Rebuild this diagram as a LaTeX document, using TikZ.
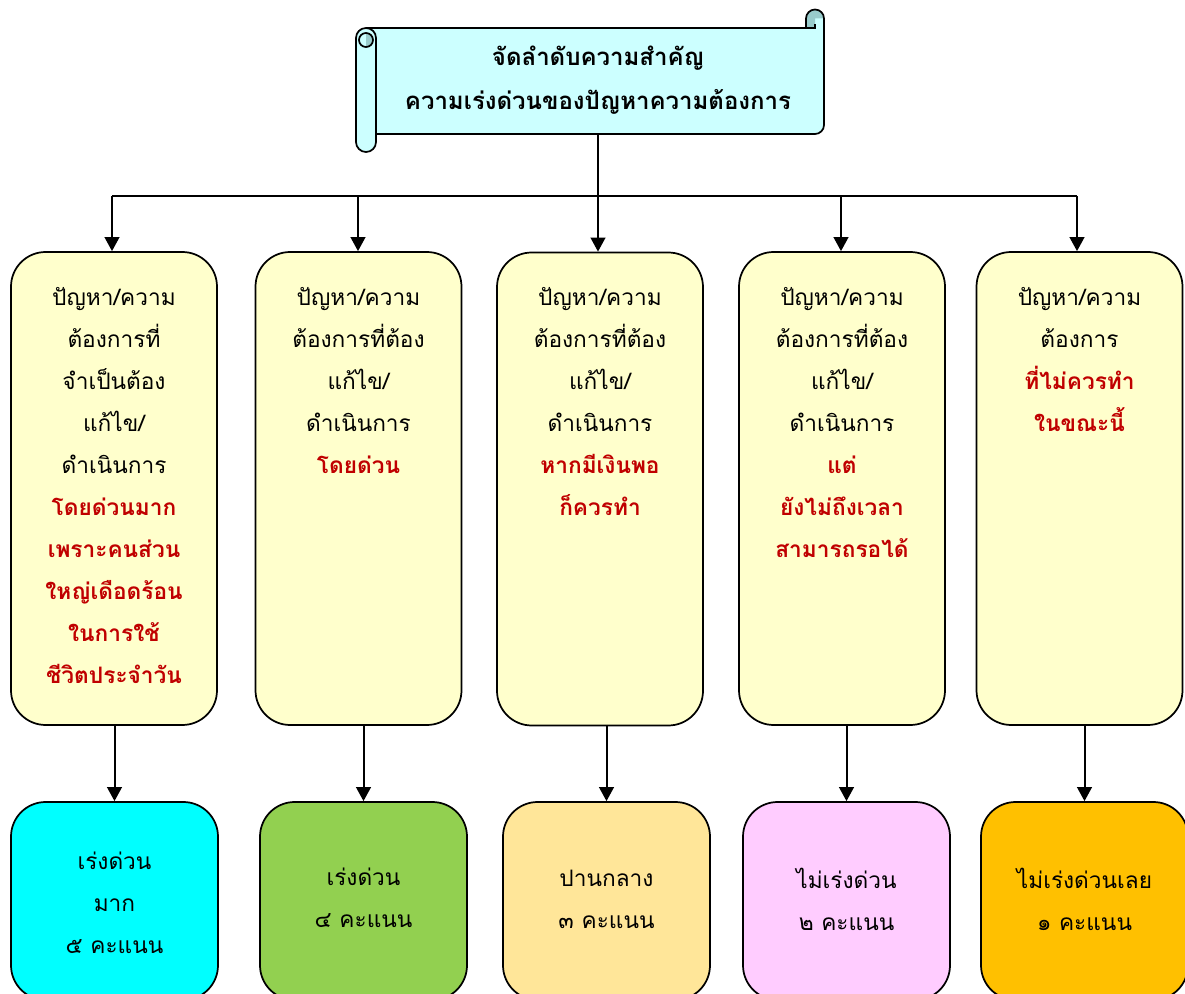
\documentclass[tikz,border=0pt]{standalone}
\usepackage{fontspec}
\setmainfont[Script=Thai]{Loma}
\usetikzlibrary{arrows.meta}
\definecolor{scrollc}{HTML}{CCFFFF}
\definecolor{scrolld}{HTML}{99CCCC}
\definecolor{topc}{HTML}{FFFFCC}
\definecolor{redt}{HTML}{C00000}
\definecolor{cA}{HTML}{00FFFF}
\definecolor{cB}{HTML}{92D050}
\definecolor{cC}{HTML}{FFE699}
\definecolor{cD}{HTML}{FFCCFF}
\definecolor{cE}{HTML}{FFC000}
\newcommand\rb[1]{{\color{redt}\bfseries #1}}
\newcommand\scrollpath{(356,38) arc[start angle=180,end angle=270,radius=10]
  -- (806,28) -- (806,18.5) arc[start angle=180,end angle=360,radius=9]
  -- (824,125) arc[start angle=0,end angle=90,radius=9]
  -- (376,134) -- (376,142) arc[start angle=0,end angle=180,radius=10]
  -- cycle}
\begin{document}
\begin{tikzpicture}[x=0.75pt,y=-0.75pt,
  outline/.style={draw=black,line width=1.3pt},
  topbox/.style={outline,fill=topc,rounded corners=26pt,minimum width=154.5pt,minimum height=354.75pt,inner sep=0pt},
  botbox/.style={outline,rounded corners=26pt,minimum width=155.25pt,minimum height=148.5pt,inner sep=0pt},
  boxtext/.style={align=center,font=\fontsize{17pt}{31.5pt}\selectfont,inner sep=0pt},
  titletext/.style={align=center,font=\bfseries\fontsize{18pt}{33pt}\selectfont,inner sep=0pt},
  conn/.style={line width=1.5pt},
  arr/.style={conn,-{Triangle[width=11pt,length=10.5pt]}}
]
\useasboundingbox (0,0) rectangle (1185,994);
\clip (0,0) rectangle (1185,994);
\fill[white] (0,0) rectangle (1185,994);

% scroll
\fill[scrollc] \scrollpath;
\fill[scrolld] (806,28) -- (806,18.5) arc[start angle=180,end angle=360,radius=9] -- (815,18.5) -- (815,28) -- cycle;
\fill[scrolld] (366,33) arc[start angle=270,end angle=450,radius=7] -- cycle;
\draw[outline,line join=round] \scrollpath;
\draw[outline] (366,28) arc[start angle=270,end angle=360,radius=10] -- (376,134);
\draw[outline] (366,40) circle[radius=7];
\draw[outline] (806,28) -- (815,28) -- (815,24);
\node[titletext] (title) at (598,80) {จัดลำดับความสำคัญ\\ความเร่งด่วนของปัญหาความต้องการ};
\coordinate (stem) at (598,134);

% top boxes
\node[topbox] (t1) at (114,488.5) {};
\node[topbox] (t2) at (358.5,488.5) {};
\node[topbox] (t3) at (600,489) {};
\node[topbox] (t4) at (842,488.5) {};
\node[topbox] (t5) at (1079.5,488.5) {};

\node[boxtext,anchor=north] (x1) at (114,287) {ปัญหา/ความ\\ต้องการที่\\จำเป็นต้อง\\แก้ไข/\\ดำเนินการ\\\rb{โดยด่วนมาก}\\\rb{เพราะคนส่วน}\\\rb{ใหญ่เดือดร้อน}\\\rb{ในการใช้}\\\rb{ชีวิตประจำวัน}};
\node[boxtext,anchor=north] (x2) at (358.5,287) {ปัญหา/ความ\\ต้องการที่ต้อง\\แก้ไข/\\ดำเนินการ\\\rb{โดยด่วน}};
\node[boxtext,anchor=north] (x3) at (600,287) {ปัญหา/ความ\\ต้องการที่ต้อง\\แก้ไข/\\ดำเนินการ\\\rb{หากมีเงินพอ}\\\rb{ก็ควรทำ}};
\node[boxtext,anchor=north] (x4) at (842,287) {ปัญหา/ความ\\ต้องการที่ต้อง\\แก้ไข/\\ดำเนินการ\\\rb{แต่}\\\rb{ยังไม่ถึงเวลา}\\\rb{สามารถรอได้}};
\node[boxtext,anchor=north] (x5) at (1079.5,287) {ปัญหา/ความ\\ต้องการ\\\rb{ที่ไม่ควรทำ}\\\rb{ในขณะนี้}};

% bottom boxes
\node[botbox,fill=cA] (b1) at (114.5,901) {};
\node[botbox,fill=cB] (b2) at (363.5,901) {};
\node[botbox,fill=cC] (b3) at (606.5,901) {};
\node[botbox,fill=cD] (b4) at (846.5,901) {};
\node[botbox,fill=cE] (b5) at (1084.5,901) {};

\node[boxtext] (y1) at (114.5,903) {เร่งด่วน\\มาก\\๕ คะแนน};
\node[boxtext] (y2) at (363.5,898) {เร่งด่วน\\๔ คะแนน};
\node[boxtext] (y3) at (606.5,899) {ปานกลาง\\๓ คะแนน};
\node[boxtext] (y4) at (846.5,899) {ไม่เร่งด่วน\\๒ คะแนน};
\node[boxtext] (y5) at (1084.5,899) {ไม่เร่งด่วนเลย\\๑ คะแนน};

% connectors
\coordinate (h1) at (112,196);
\coordinate (h2) at (358,196);
\coordinate (h4) at (841,196);
\coordinate (h5) at (1077,196);
\draw[conn] (h1) -- (h5);
\draw[arr] (stem) -- (stem |- t3.north);
\draw[arr] (h1) -- (h1 |- t1.north);
\draw[arr] (h2) -- (h2 |- t2.north);
\draw[arr] (h4) -- (h4 |- t4.north);
\draw[arr] (h5) -- (h5 |- t5.north);

\draw[arr] (t1.south -| b1.north) -- (b1.north);
\draw[arr] (t2.south -| b2.north) -- (b2.north);
\draw[arr] (t3.south -| b3.north) -- (b3.north);
\draw[arr] (t4.south -| b4.north) -- (b4.north);
\draw[arr] (t5.south -| b5.north) -- (b5.north);
\end{tikzpicture}
\end{document}
